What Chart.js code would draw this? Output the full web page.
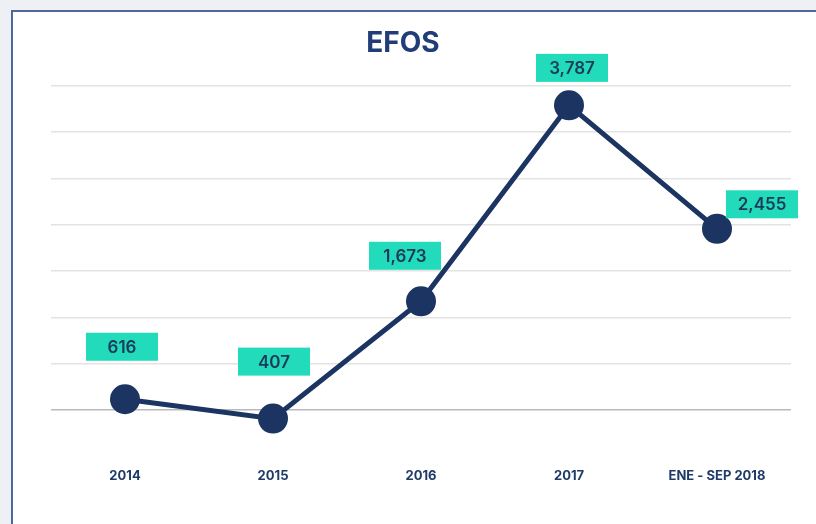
<!DOCTYPE html>
<html>
<head>
<meta charset="utf-8">
<script src="https://cdn.jsdelivr.net/npm/chart.js@4.4.0/dist/chart.umd.min.js"></script>
<style>
    html, body { margin: 0; padding: 0; }
    body { width: 816px; height: 524px; background: #eef0f6; position: relative; overflow: hidden; }
    #frame { position: absolute; left: 11px; top: 10px; width: 820px; height: 530px; background: #fff; border: 2px solid #4b6a9b; }
    #wrap { position: absolute; left: 0; top: 0; width: 816px; height: 524px; }
</style>
</head>
<body>
<div id="frame"></div>
<div id="wrap"><canvas id="myChart" width="816" height="524"></canvas></div>
<script>
const labels = ['2014', '2015', '2016', '2017', 'ENE - SEP 2018'];
const values = [616, 407, 1673, 3787, 2455];
const yTicks = { min: 500, max: 4000, step: 500 };

// where each value box sits relative to its point (px)
const boxOffsets = [[-3, -52.5], [1, -57], [-16, -45.5], [3, -37.5], [45, -24.5]];

const navy = '#1b3461';

const valueBoxes = {
    id: 'valueBoxes',
    afterDatasetsDraw(chart) {
        const ctx = chart.ctx;
        const meta = chart.getDatasetMeta(0);
        ctx.save();
        meta.data.forEach((pt, i) => {
            const cx = pt.x + boxOffsets[i][0];
            const cy = pt.y + boxOffsets[i][1];
            ctx.fillStyle = '#22dbbb';
            ctx.fillRect(cx - 36, cy - 14, 72, 28);
            ctx.fillStyle = '#1d3a5a';
            ctx.font = '600 17px Inter';
            ctx.textAlign = 'center';
            ctx.textBaseline = 'middle';
            ctx.fillText(values[i].toLocaleString('en-US'), cx, cy + 1);
        });
        ctx.restore();
    }
};

const ctx = document.getElementById('myChart');
const myChart = new Chart(ctx, {
    type: 'line',
    data: {
        labels: labels,
        datasets: [{
            data: values,
            borderColor: navy,
            backgroundColor: navy,
            borderWidth: 5,
            pointRadius: 15,
            pointHoverRadius: 15,
            pointBackgroundColor: navy,
            pointBorderWidth: 0,
            tension: 0,
            clip: false
        }]
    },
    options: {
        responsive: false,
        animation: false,
        devicePixelRatio: 1,
        layout: { autoPadding: false, padding: { left: 15, right: 25, top: 0, bottom: 30 } },
        plugins: {
            legend: { display: false },
            tooltip: { enabled: false },
            title: {
                display: true,
                text: 'EFOS',
                color: '#203d78',
                font: { family: 'Inter', size: 28, weight: 'bold' },
                padding: { top: 27, bottom: 25 }
            }
        },
        scales: {
            x: {
                offset: true,
                afterFit(scale) {
                    scale.height = 84;
                    scale.paddingLeft = 0;
                    scale.paddingRight = 0;
                },
                grid: { display: false },
                border: { display: false },
                ticks: {
                    color: '#1f3a68',
                    padding: 50,
                    maxRotation: 0,
                    font: { family: 'Inter', size: 13, weight: 'bold' }
                }
            },
            y: {
                min: yTicks.min,
                max: yTicks.max,
                afterFit(scale) { scale.width = 36; },
                border: { display: false },
                grid: {
                    drawTicks: false,
                    lineWidth: 1.5,
                    color: (c) => c.index === 0 ? '#b9b9b9' : '#e3e3e3'
                },
                ticks: { display: false, stepSize: yTicks.step }
            }
        }
    },
    plugins: [valueBoxes]
});
</script>
</body>
</html>
